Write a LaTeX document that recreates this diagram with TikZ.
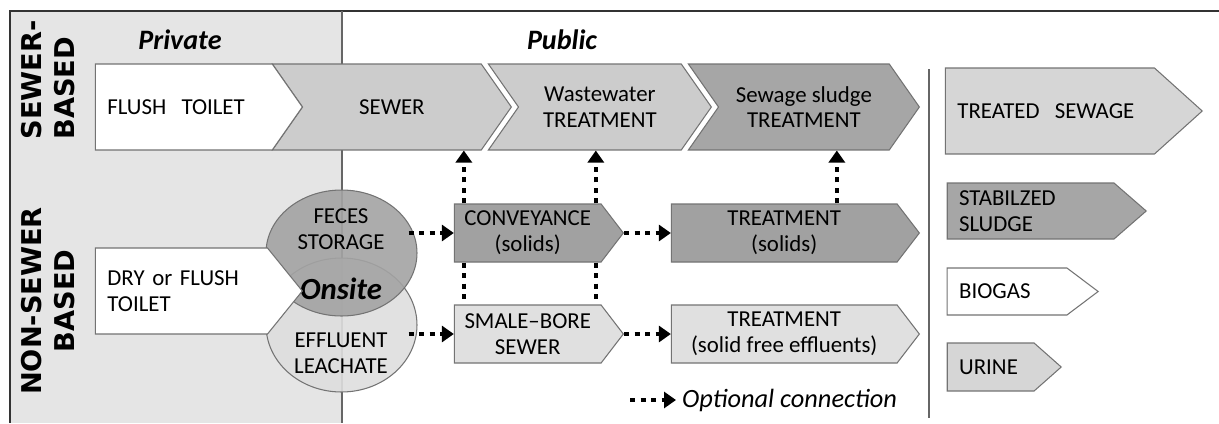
\documentclass[tikz,border=0pt]{standalone}
\usepackage{fontspec}
\setmainfont{Carlito}
\newfontfamily\heavyfont{DejaVu Sans}
\usetikzlibrary{arrows.meta,shapes.symbols,shapes.geometric,calc}

\begin{document}
\begin{tikzpicture}[
  x=0.02cm, y=-0.02cm,
  chev/.style={signal, signal to=east, draw=black!55, line width=0.6pt, text=black, inner sep=0pt, font=\fontsize{13}{14.7}\selectfont, align=center},
  blob/.style={ellipse, draw=black!55, line width=0.6pt, minimum width=3.02cm},
  txt/.style={font=\fontsize{13}{14.7}\selectfont, text=black, align=center},
  side/.style={font=\heavyfont\bfseries\fontsize{15.5}{18.7}\selectfont, rotate=90, text=black},
  zone/.style={font=\bfseries\itshape\fontsize{16}{18}\selectfont, text=black},
  opt/.style={line width=2.6pt, dash pattern=on 3pt off 3pt, -{Triangle[length=0.24cm, width=0.32cm]}},
  optline/.style={line width=2.6pt, dash pattern=on 3pt off 3pt}
]

  \useasboundingbox (0,0) rectangle (1219,423);

  % Private zone and frame
  \fill[black!10] (10,11) rectangle (342,423);
  \draw[black!80, line width=0.7pt] (1219,11) -- (10,11) -- (10,423);
  \draw[black!60, line width=0.6pt] (342,11) -- (342,423);
  \draw[black!60, line width=0.6pt] (929,69) -- (929,418);

  \node[zone] (private) at (180,40) {Private};
  \node[zone] (public) at (562,40) {Public};

  \node[side, align=left] (sewerbased) at (48,80) {SEWER-\\BASED};
  \node[side, align=center] (nonsewer) at (48,301) {NON-SEWER\\BASED};

  % SEWER-BASED chain
  \node[chev, fill=black!35, signal from=west, signal pointer angle=110, minimum width=4.62cm, minimum height=1.72cm, anchor=east] (sludge) at (920,107) {Sewage sludge\\TREATMENT};
  \node[chev, fill=black!20, signal from=west, signal pointer angle=110, minimum width=4.46cm, minimum height=1.72cm, anchor=east] (wastewater) at (712,107) {Wastewater\\TREATMENT};
  \node[chev, fill=black!20, signal from=west, signal pointer angle=110, minimum width=4.78cm, minimum height=1.72cm, anchor=east] (sewer) at (512,107) {SEWER};
  \node[chev, fill=white, signal pointer angle=110, minimum width=4.14cm, minimum height=1.72cm, text width=3.06cm, align=left, anchor=east] (flush) at (303,107) {FLUSH~~TOILET};

  % Onsite storage
  \node[blob, fill=black!13, fill opacity=0.9, minimum height=2.68cm] (effluent) at (341.5,325) {};
  \node[blob, fill=black!36, fill opacity=0.9, minimum height=2.52cm] (feces) at (341.5,253) {};
  \node[txt] (fecestxt) at (341,229) {FECES\\STORAGE};
  \node[txt] (effltxt) at (341,353) {EFFLUENT\\LEACHATE};
  \node[font=\bfseries\itshape\fontsize{17.5}{20}\selectfont, text=black] (onsite) at (341,289) {Onsite};

  \node[chev, fill=white, signal pointer angle=102, minimum width=4.14cm, minimum height=1.72cm, text width=2.96cm, align=left, anchor=east] (drytoilet) at (303,291) {DRY or FLUSH\\TOILET};

  % NON-SEWER chain
  \node[chev, fill=black!37, signal pointer angle=105, minimum width=3.38cm, minimum height=1.16cm, anchor=east] (conv) at (624,233) {CONVEYANCE\\(solids)};
  \node[chev, fill=black!12, signal pointer angle=105, minimum width=3.38cm, minimum height=1.16cm, anchor=east] (smale) at (624,334) {SMALE--BORE\\SEWER};
  \node[chev, fill=black!37, signal pointer angle=105, minimum width=4.96cm, minimum height=1.16cm, anchor=east] (treat) at (920,233) {TREATMENT\\(solids)};
  \node[chev, fill=black!12, signal pointer angle=105, minimum width=4.96cm, minimum height=1.16cm, anchor=east] (treatfree) at (920,334) {TREATMENT\\(solid free effluents)};

  % Products
  \node[chev, fill=black!16, signal pointer angle=84, minimum width=5.14cm, minimum height=1.72cm, text width=3.7cm, align=left, anchor=east] (treated) at (1203,111) {TREATED~~SEWAGE};
  \node[chev, fill=black!35, signal pointer angle=82, minimum width=3.98cm, minimum height=1.12cm, text width=2.86cm, align=left, anchor=east] (stab) at (1147,211) {STABILZED\\SLUDGE};
  \node[chev, fill=white, signal pointer angle=74, minimum width=3.02cm, minimum height=0.94cm, text width=1.92cm, align=left, anchor=east] (biogas) at (1099,291.5) {BIOGAS};
  \node[chev, fill=black!16, signal pointer angle=83, minimum width=2.28cm, minimum height=0.96cm, text width=1.26cm, align=left, anchor=east] (urine) at (1062,367) {URINE};

  % Optional connections
  \draw[opt] ([xshift=-0.18cm]feces.east |- conv.west) -- (conv.west);
  \draw[opt] ([xshift=-0.18cm]effluent.east |- smale.west) -- (smale.west);
  \draw[opt] (conv.east) -- (treat.west);
  \draw[opt] (smale.east) -- (treatfree.west);

  \coordinate (up1) at ([xshift=0.2cm]conv.west);
  \coordinate (up2) at ([xshift=2.84cm]conv.west);
  \coordinate (up3) at ([xshift=3.32cm]treat.west);
  \draw[opt] (up1 |- conv.north) -- (up1 |- sewer.south);
  \draw[opt] (up2 |- conv.north) -- (up2 |- wastewater.south);
  \draw[opt] (up3 |- treat.north) -- (up3 |- sludge.south);
  \draw[optline] (up1 |- conv.south) -- (up1 |- smale.north);
  \draw[optline] (up2 |- conv.south) -- (up2 |- smale.north);

  % Legend
  \node[font=\itshape\fontsize{15}{17}\selectfont, text=black, anchor=west] (legend) at (676,400) {Optional connection};
  \coordinate (legstart) at (630,400);
  \draw[opt] (legstart) -- (legend.west);

\end{tikzpicture}
\end{document}
